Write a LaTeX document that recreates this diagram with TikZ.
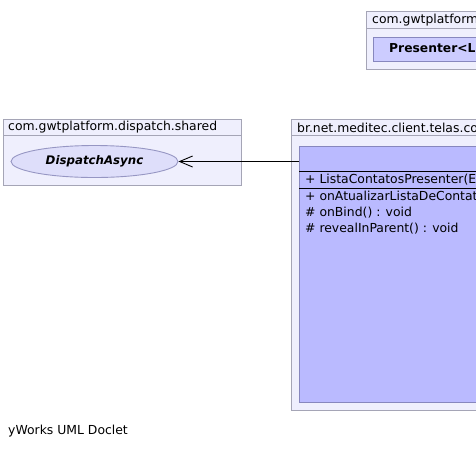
\documentclass[tikz,border=0pt]{standalone}
\usepackage{fontspec}
\setmainfont{DejaVu Sans}
\usetikzlibrary{arrows.meta,shapes.geometric}
\definecolor{pkgfill}{RGB}{239,239,253}
\definecolor{pkgdraw}{RGB}{165,165,182}
\definecolor{clsfill}{RGB}{186,186,255}
\definecolor{clsdraw}{RGB}{135,135,190}
\definecolor{ifill}{RGB}{222,222,250}
\definecolor{idraw}{RGB}{150,150,195}
\definecolor{pfill}{RGB}{204,204,255}
\tikzset{
  pkgbox/.style={draw=pkgdraw,fill=pkgfill,line width=0.9pt},
  clsbox/.style={draw=clsdraw,fill=clsfill,line width=0.9pt},
  txt/.style={inner sep=0pt,anchor=west,font=\fontsize{12.4}{14}\selectfont},
  boldtxt/.style={txt,font=\fontsize{12.3}{14}\selectfont\bfseries},
}
\begin{document}
\begin{tikzpicture}[x=1pt,y=-1pt]
\useasboundingbox (0,0) rectangle (476,448);
\clip (0,0) rectangle (476,448);
% top-right package
\draw[pkgbox] (366,11) rectangle (490,69);
\draw[pkgdraw,line width=0.9pt] (366,28) -- (490,28);
\node[txt] (p1h) at (372,20) {com.gwtplatform.mvp.client};
\draw[clsbox,fill=pfill] (373,37) rectangle (495,61);
\node[boldtxt] (pres) at (389,49.5) {Presenter<ListaContatosPresenter.MyView>};
% left package
\draw[pkgbox] (3,119) rectangle (241,185);
\draw[pkgdraw,line width=0.9pt] (3,135) -- (241,135);
\node[txt] (p2h) at (8,127.5) {com.gwtplatform.dispatch.shared};
\node[ellipse,draw=idraw,fill=ifill,line width=0.9pt,minimum width=167pt,minimum height=32pt,inner sep=0pt,
      font=\fontsize{11.8}{14}\selectfont\bfseries\itshape] (disp) at (94.5,161.5) {DispatchAsync};
% right package
\draw[pkgbox] (291,119) rectangle (495,410);
\draw[pkgdraw,line width=0.9pt] (291,135) -- (495,135);
\node[txt] (p3h) at (297,127.5) {br.net.meditec.client.telas.contatos};
\draw[clsbox] (299,146) rectangle (495,402);
\coordinate (clsw) at (299,161.5);
\draw[black,line width=0.9pt] (299,171.5) -- (495,171.5);
\draw[black,line width=0.9pt] (299,188.5) -- (495,188.5);
\node[txt] (m1) at (305,180.5) {+ ListaContatosPresenter(EventBus, MyView, MyProxy, DispatchAsync)};
\node[txt] (m2) at (305,197) {+ onAtualizarListaDeContatos(AtualizarListaDeContatosEvent) : void};
\node[txt] (m3) at (305,213) {\# onBind() : void};
\node[txt] (m4) at (305,229) {\# revealInParent() : void};
% connector
\draw[line width=0.9pt,-{Straight Barb[length=13pt,width=11pt]}] (clsw) -- (disp.east);
% footer
\node[txt] (foot) at (8,431.5) {yWorks UML Doclet};
\end{tikzpicture}
\end{document}
